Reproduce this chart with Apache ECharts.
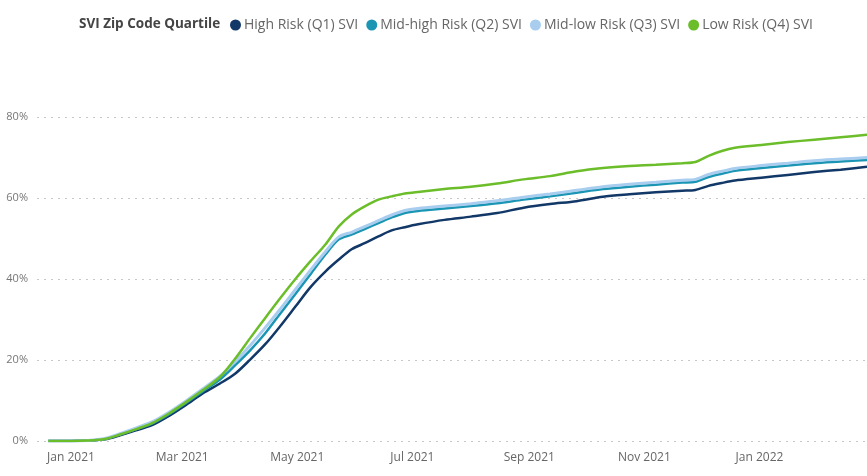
<!DOCTYPE html>
<html>
<head>
<meta charset="utf-8">
<style>html,body{margin:0;padding:0;background:#fff}#c{width:867px;height:476px}</style>
<script src="https://cdn.jsdelivr.net/npm/echarts@6/dist/echarts.min.js"></script>
</head>
<body>
<div id="c"></div>
<script>
const legendTitle = 'SVI Zip Code Quartile';
const seriesNames = ['High Risk (Q1) SVI', 'Mid-high Risk (Q2) SVI', 'Mid-low Risk (Q3) SVI', 'Low Risk (Q4) SVI'];
const seriesColors = ['#123868', '#1a96b4', '#a8cdee', '#6bbd2a'];
const tickDates = ['2021-01-01','2021-03-01','2021-05-01','2021-07-01','2021-09-01','2021-11-01','2022-01-01'];
const tickLabels = ['Jan 2021','Mar 2021','May 2021','Jul 2021','Sep 2021','Nov 2021','Jan 2022'];
const yTicks = [0, 20, 40, 60, 80];

const dates = ['2020-12-20','2021-01-01','2021-01-10','2021-01-19','2021-01-27','2021-02-05','2021-02-13','2021-02-22',
'2021-03-03','2021-03-12','2021-03-21','2021-03-29','2021-04-06','2021-04-14','2021-04-22','2021-04-30',
'2021-05-08','2021-05-16','2021-05-23','2021-05-30','2021-06-06','2021-06-13','2021-06-20','2021-06-27',
'2021-07-04','2021-07-18','2021-08-01','2021-08-15','2021-08-29','2021-09-12','2021-09-26','2021-10-10',
'2021-10-24','2021-11-07','2021-11-21','2021-11-28','2021-12-05','2021-12-12','2021-12-19','2022-01-02',
'2022-01-16','2022-01-30','2022-02-13','2022-02-27'];

const q1 = [0,0,0.1,0.4,1.4,2.7,3.9,6.2,8.9,11.8,14.2,16.6,20.1,23.9,28.4,33.2,38.0,41.9,44.8,47.4,48.9,50.5,52.0,52.8,
53.5,54.6,55.4,56.3,57.6,58.5,59.2,60.3,60.9,61.4,61.8,62.0,63.0,63.7,64.3,65.0,65.7,66.4,67.0,67.7];
const q2 = [0,0,0.1,0.5,1.6,3.0,4.3,6.6,9.4,12.3,15.2,18.7,22.4,26.6,31.5,36.3,41.2,46.1,49.8,51.0,52.4,53.8,55.2,56.3,
56.8,57.4,58.0,58.7,59.6,60.4,61.3,62.2,62.8,63.3,63.8,64.0,65.2,66.0,66.7,67.4,68.0,68.6,69.0,69.4];
const q3 = [0,0,0.1,0.6,1.8,3.3,4.7,7.1,9.9,12.9,16.0,19.6,23.6,28.0,32.6,37.4,42.2,46.8,50.4,51.6,53.0,54.4,55.8,56.9,
57.4,58.0,58.6,59.3,60.2,61.0,61.9,62.8,63.4,63.9,64.4,64.6,65.8,66.6,67.3,68.0,68.6,69.2,69.6,70.0];
const q4 = [0,0,0.1,0.5,1.6,3.0,4.4,6.8,9.6,12.6,15.8,20.3,25.4,30.4,35.3,40.0,44.4,48.6,53.0,56.0,58.0,59.6,60.4,61.1,
61.5,62.2,62.8,63.6,64.6,65.4,66.6,67.4,67.9,68.2,68.6,68.9,70.4,71.6,72.4,73.1,73.8,74.4,75.0,75.6];

const base = Date.UTC(2021, 0, 1);
function dayOf(s) { const p = s.split('-').map(Number); return Math.round((Date.UTC(p[0], p[1]-1, p[2]) - base) / 86400000); }
const tickDays = tickDates.map(dayOf);
const allValues = [q1, q2, q3, q4];

const chart = echarts.init(document.getElementById('c'), null, {renderer: 'canvas'});
const font = '"Open Sans", "Noto Sans", sans-serif';
chart.setOption({
  animation: false,
  backgroundColor: '#fff',
  title: {
    text: legendTitle, left: 74, top: 12,
    textStyle: {fontFamily: font, fontSize: 13.5, fontWeight: 'bold', color: '#444'}
  },
  legend: {
    left: 225, top: 13, icon: 'circle', itemWidth: 11, itemHeight: 11, itemGap: 8,
    textStyle: {fontFamily: font, fontSize: 14, color: '#666', padding: [0, 0, 0, -2]},
    data: seriesNames
  },
  grid: {left: 37, right: 0, top: 117, bottom: 35},
  xAxis: {
    type: 'value', min: -18, max: 422,
    axisLine: {show: false}, axisTick: {show: false}, splitLine: {show: false},
    axisLabel: {
      customValues: tickDays, margin: 11,
      fontFamily: font, fontSize: 12, color: '#666',
      formatter: v => tickLabels[tickDays.indexOf(v)] || ''
    }
  },
  yAxis: {
    type: 'value', min: yTicks[0], max: yTicks[yTicks.length-1], interval: 20,
    axisLine: {show: false}, axisTick: {show: false},
    axisLabel: {formatter: '{value}%', margin: 9, fontFamily: font, fontSize: 11, color: '#777'},
    splitLine: {show: true, lineStyle: {type: [2, 5], color: '#c8c8c8', width: 1}}
  },
  series: seriesNames.map((n, i) => ({
    name: n, type: 'line', showSymbol: false, smooth: 0.3,
    color: seriesColors[i],
    lineStyle: {width: i === 2 ? 3 : 2.5, color: seriesColors[i]},
    z: i + 2,
    data: dates.map((d, k) => [dayOf(d), allValues[i][k]])
  }))
});
</script>
</body>
</html>
